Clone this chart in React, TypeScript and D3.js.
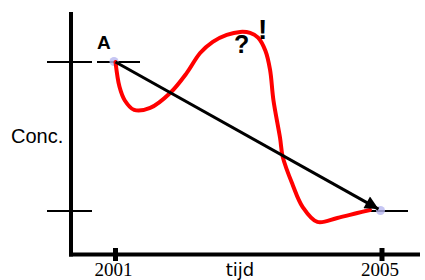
import { useEffect, useRef } from 'react'
import * as d3 from 'd3'

// hand-drawn red curve (year, concentration)
const tijd = [2001.0, 2001.06, 2001.14, 2001.28, 2001.52, 2001.82, 2002.07, 2002.27, 2002.46, 2002.67, 2002.87, 2003.02, 2003.14, 2003.25, 2003.32, 2003.37, 2003.47, 2003.51, 2003.66, 2003.81, 2004.03, 2004.33, 2004.63, 2004.82]
const conc = [8.0, 7.0, 6.45, 6.07, 6.15, 6.75, 7.56, 8.36, 8.81, 9.09, 9.21, 9.17, 8.98, 8.45, 7.68, 6.47, 4.94, 4.18, 3.05, 2.16, 1.56, 1.72, 1.92, 2.04]

// straight arrow from A (start) to end
const arrowYears = [2001, 2005]
const arrowConc = [8, 2]

const tickYears = [2001, 2005]
const levels = [8, 2]

const W = 425
const H = 280

export default function App() {
    const ref = useRef<SVGSVGElement>(null)

    useEffect(() => {
        draw()
    })

    const draw = () => {
        const svg = d3.select(ref.current)
        svg.selectAll('*').remove()

        const x = d3.scaleLinear().domain([2001, 2005]).range([115.5, 382])
        const y = d3.scaleLinear().domain([0, 10]).range([260.7, 12.3])

        const defs = svg.append('defs')
        defs.append('marker')
            .attr('id', 'head')
            .attr('viewBox', '0 0 10 10')
            .attr('refX', 10)
            .attr('refY', 5)
            .attr('markerWidth', 5)
            .attr('markerHeight', 4.5)
            .attr('markerUnits', 'strokeWidth')
            .attr('orient', 'auto')
            .append('path')
            .attr('d', 'M0,0 L10,5 L0,10 Z')
            .attr('fill', '#000')

        // axes
        svg.append('line').attr('x1', 71).attr('x2', 71).attr('y1', 12).attr('y2', 256.5)
            .attr('stroke', '#000').attr('stroke-width', 4)
        svg.append('line').attr('x1', 69).attr('x2', 420).attr('y1', 254.5).attr('y2', 254.5)
            .attr('stroke', '#000').attr('stroke-width', 4)
        svg.selectAll('.tick').data(tickYears).enter().append('line')
            .attr('x1', d => x(d)).attr('x2', d => x(d))
            .attr('y1', 248).attr('y2', 261)
            .attr('stroke', '#000').attr('stroke-width', 5)

        // level lines
        const segs = [
            [levels[0], 47, 92], [levels[0], 97, 140],
            [levels[1], 47, 92], [levels[1], 370, 408],
        ]
        svg.selectAll('.lvl').data(segs).enter().append('line')
            .attr('x1', d => d[1]).attr('x2', d => d[2])
            .attr('y1', d => y(d[0])).attr('y2', d => y(d[0]))
            .attr('stroke', '#000').attr('stroke-width', 2)

        // endpoint dots
        svg.selectAll('.dot').data(arrowYears).enter().append('circle')
            .attr('cx', d => x(d) - 1.5)
            .attr('cy', (d, i) => y(arrowConc[i]) - 0.5)
            .attr('r', 4.5)
            .attr('fill', '#b8b8f0')
            .attr('opacity', 0.8)

        // red curve
        const line = d3.line<number>()
            .x((d, i) => x(tijd[i]))
            .y(d => y(d))
            .curve(d3.curveCatmullRom.alpha(0.5))
        svg.append('path')
            .datum(conc)
            .attr('fill', 'none')
            .attr('stroke', '#ff0000')
            .attr('stroke-width', 4)
            .attr('stroke-linecap', 'round')
            .attr('stroke-linejoin', 'round')
            .attr('d', line)

        // arrow
        const x0 = x(arrowYears[0]), y0 = y(arrowConc[0])
        const x1 = x(arrowYears[1]), y1 = y(arrowConc[1])
        const len = Math.hypot(x1 - x0, y1 - y0)
        const k = (len - 4) / len
        svg.append('line')
            .attr('x1', x0).attr('y1', y0)
            .attr('x2', x0 + (x1 - x0) * k).attr('y2', y0 + (y1 - y0) * k)
            .attr('stroke', '#000').attr('stroke-width', 3)
            .attr('marker-end', 'url(#head)')

        // labels
        const sans = 'Liberation Sans, Arial, sans-serif'
        const serif = 'Liberation Serif, Times New Roman, serif'
        svg.append('text').attr('x', 97).attr('y', 49).text('A')
            .attr('font-family', sans).attr('font-weight', 'bold').attr('font-size', 19)
        svg.append('text').attr('x', 234).attr('y', 53).text('?')
            .attr('font-family', sans).attr('font-weight', 'bold').attr('font-size', 25)
        svg.append('text').attr('x', 258).attr('y', 39).text('!')
            .attr('font-family', sans).attr('font-weight', 'bold').attr('font-size', 28)
        svg.append('text').attr('x', 11).attr('y', 143).text('Conc.')
            .attr('font-family', sans).attr('font-size', 20)
        svg.selectAll('.yr').data(tickYears).enter().append('text')
            .attr('x', d => x(d) - 2)
            .attr('y', 276)
            .attr('text-anchor', 'middle')
            .attr('font-family', serif).attr('font-size', 19)
            .text(d => d)
        svg.append('text').attr('x', 240).attr('y', 276).text('tijd')
            .attr('text-anchor', 'middle')
            .attr('font-family', 'DejaVu Sans, sans-serif').attr('font-size', 18)
    }

    return (
        <div style={{ position: 'fixed', left: 0, top: 0 }}>
            <svg width={W} height={H} ref={ref} style={{ display: 'block', background: '#fff' }} />
        </div>
    )
}
